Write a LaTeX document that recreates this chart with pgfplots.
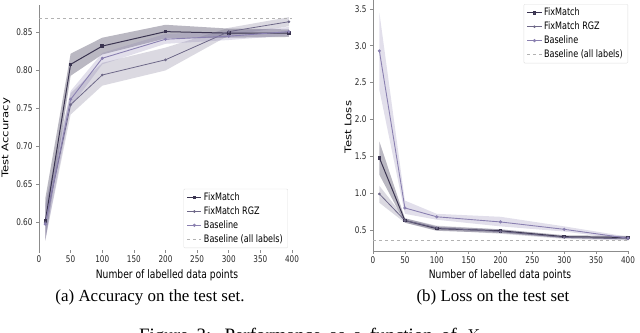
\documentclass[border=0pt]{standalone}
\usepackage{pgfplots}
\pgfplotsset{compat=1.18}
\usepackage{graphicx}
\usepackage{fontspec}
\setmainfont{DejaVu Sans}
\newfontfamily\capfont{Liberation Serif}
\newcommand{\vs}[1]{\scalebox{1}[1.27]{#1}}
\definecolor{cFM}{HTML}{3A3450}
\definecolor{cRGZ}{HTML}{6E6888}
\definecolor{cBL}{HTML}{8A80B0}
\definecolor{spine}{HTML}{8C8C8C}
\pgfplotsset{
  common/.style={
    scale only axis,
    anchor=south west,
    axis lines*=left,
    axis line style={spine, line width=0.9bp},
    tick style={spine, line width=0.7bp},
    tick align=outside,
    major tick length=3bp,
    xmin=0, xmax=400,
    xtick={0,50,...,400},
    ticklabel style={font=\fontsize{7.3}{9}\selectfont, text=black!85},
    xticklabel={\vs{\pgfmathprintnumber{\tick}}},
    yticklabel={\vs{\pgfmathprintnumber{\tick}}},
    xticklabel style={yshift=1bp},
    /pgf/number format/assume math mode=true,
    legend cell align=left,
    legend style={font=\fontsize{8.1}{10}\selectfont, draw=black!12, fill=white, fill opacity=0.85, text opacity=1, rounded corners=1bp, inner xsep=3bp, inner ysep=2bp, row sep=0.6bp},
    legend image code/.code={\draw[#1] (0cm,0cm) -- (0.5cm,0cm); \draw[#1, only marks] plot coordinates {(0.25cm,0cm)};},
  },
  fm/.style={cFM, line width=1bp, mark=square*, mark size=1.3bp},
  rgz/.style={cRGZ, line width=0.8bp, mark=*, mark size=0.9bp},
  bl/.style={cBL, line width=0.9bp, mark=*, mark size=1.1bp},
  allb/.style={black!30, dashed, line width=0.6bp},
}
\begin{document}
\begin{tikzpicture}
\useasboundingbox (0,0) rectangle (640bp,-333bp);
% ---------------- left: accuracy
\begin{axis}[common,
  at={(39bp,-250bp)}, width=253bp, height=245bp,
  ymin=0.564, ymax=0.886,
  ytick={0.60,0.65,...,0.86},
  yticklabel style={/pgf/number format/.cd, fixed, fixed zerofill, precision=2},
  x axis line style={draw=none},
  legend style={at={(0.984,0.008)}, anchor=south east},
]
\addplot[fill=cFM, fill opacity=0.35, draw=none, forget plot] coordinates {
 (10,0.632) (50,0.822) (100,0.843) (200,0.860) (300,0.855) (395,0.854)
 (395,0.844) (300,0.843) (200,0.842) (100,0.821) (50,0.793) (10,0.576)} -- cycle;
\addplot[fill=cRGZ, fill opacity=0.25, draw=none, forget plot] coordinates {
 (10,0.625) (50,0.770) (100,0.810) (200,0.830) (300,0.856) (395,0.870)
 (395,0.858) (300,0.846) (200,0.800) (100,0.780) (50,0.742) (10,0.578)} -- cycle;
\addplot[fill=cBL, fill opacity=0.25, draw=none, forget plot] coordinates {
 (10,0.622) (50,0.773) (100,0.823) (200,0.848) (300,0.851) (395,0.857)
 (395,0.846) (300,0.840) (200,0.835) (100,0.808) (50,0.752) (10,0.576)} -- cycle;
\addplot[fm] coordinates {(10,0.602) (50,0.808) (100,0.832) (200,0.851) (300,0.849) (395,0.849)};
\addlegendentry{\vs{FixMatch}}
\addplot[rgz] coordinates {(10,0.600) (50,0.755) (100,0.794) (200,0.814) (300,0.851) (395,0.864)};
\addlegendentry{\vs{FixMatch RGZ}}
\addplot[bl] coordinates {(10,0.598) (50,0.762) (100,0.816) (200,0.841) (300,0.845) (395,0.851)};
\addlegendentry{\vs{Baseline}}
\addplot[allb] coordinates {(0,0.869) (400,0.869)};
\addlegendentry{\vs{Baseline (all labels)}}
\draw[spine, line width=0.9bp] (rel axis cs:1,0) -- (rel axis cs:1,1);
\end{axis}
% ---------------- right: loss
\begin{axis}[common,
  at={(373bp,-251bp)}, width=255bp, height=251bp,
  ymin=0.216, ymax=3.62,
  ytick={0.5,1.0,...,3.6},
  yticklabel style={/pgf/number format/.cd, fixed, fixed zerofill, precision=1},
  legend style={at={(1,0.984)}, anchor=north east},
]
\addplot[fill=cFM, fill opacity=0.35, draw=none, forget plot] coordinates {
 (10,1.70) (50,0.66) (100,0.55) (200,0.51) (300,0.43) (400,0.42)
 (400,0.38) (300,0.39) (200,0.46) (100,0.49) (50,0.60) (10,1.25)} -- cycle;
\addplot[fill=cRGZ, fill opacity=0.25, draw=none, forget plot] coordinates {
 (10,1.10) (50,0.66) (100,0.56) (200,0.51) (300,0.42) (400,0.40)
 (400,0.36) (300,0.38) (200,0.45) (100,0.50) (50,0.60) (10,0.87)} -- cycle;
\addplot[fill=cBL, fill opacity=0.25, draw=none, forget plot] coordinates {
 (10,3.45) (50,0.90) (100,0.72) (200,0.68) (300,0.55) (400,0.41)
 (400,0.37) (300,0.48) (200,0.55) (100,0.64) (50,0.72) (10,2.40)} -- cycle;
\addplot[fm] coordinates {(10,1.48) (50,0.63) (100,0.52) (200,0.49) (300,0.41) (400,0.40)};
\addlegendentry{\vs{FixMatch}}
\addplot[rgz] coordinates {(10,0.99) (50,0.63) (100,0.53) (200,0.48) (300,0.40) (400,0.38)};
\addlegendentry{\vs{FixMatch RGZ}}
\addplot[bl] coordinates {(10,2.93) (50,0.80) (100,0.68) (200,0.61) (300,0.51) (400,0.39)};
\addlegendentry{\vs{Baseline}}
\addplot[allb] coordinates {(0,0.365) (400,0.365)};
\addlegendentry{\vs{Baseline (all labels)}}
\end{axis}
% labels
\node[rotate=90, xscale=1.27, font=\fontsize{9.2}{10}\selectfont] at (6bp,-138bp) {Test Accuracy};
\node[rotate=90, xscale=1.27, font=\fontsize{9.2}{10}\selectfont] at (348bp,-127bp) {Test Loss};
\node[font=\fontsize{9.2}{10}\selectfont] at (167bp,-275bp) {\vs{Number of labelled data points}};
\node[font=\fontsize{9.2}{10}\selectfont] at (500bp,-275bp) {\vs{Number of labelled data points}};
\node[font=\capfont\fontsize{17}{19}\selectfont] at (150bp,-297bp) {(a) Accuracy on the test set.};
\node[font=\capfont\fontsize{17}{19}\selectfont] at (493bp,-297bp) {(b) Loss on the test set};
\node[font=\capfont\fontsize{19}{21}\selectfont, anchor=base west, inner sep=0pt] at (139bp,-341bp) {\makebox[345bp][s]{Figure 3: Performance as a function of $X_i$}};
\end{tikzpicture}
\end{document}
